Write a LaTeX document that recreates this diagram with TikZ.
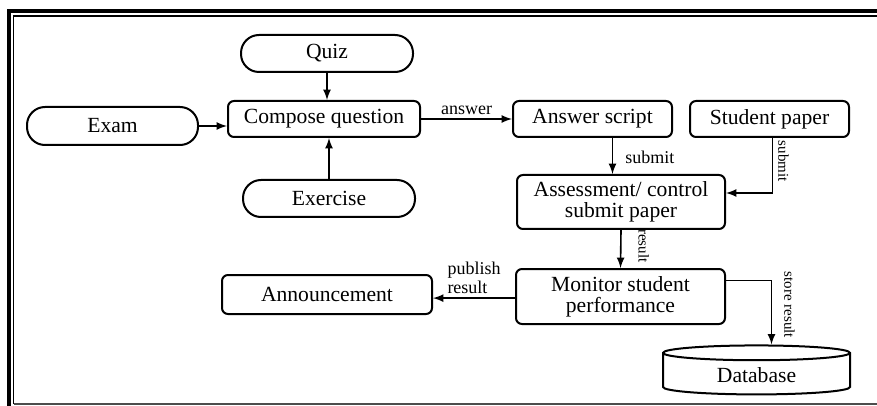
\documentclass[tikz,border=0pt]{standalone}
\usepackage{fontspec}
\setmainfont{Liberation Serif}
\usetikzlibrary{shapes.geometric}

\begin{document}
\begin{tikzpicture}[x=0.5pt, y=-0.5pt, >=latex,
    term/.style={draw, line width=1pt, rounded corners=9pt, minimum width=86pt,
      minimum height=18.5pt, font=\fontsize{10.8}{12}\selectfont},
    proc/.style={draw, line width=1pt, rounded corners=3pt, align=center,
      font=\fontsize{10.8}{10.5}\selectfont},
    arr/.style={->, line width=0.8pt},
    lbl/.style={font=\fontsize{9}{9.5}\selectfont, inner sep=2pt},
    vlbl/.style={font=\fontsize{7.5}{8}\selectfont, rotate=-90, anchor=south}]

  \useasboundingbox (0,0) rectangle (877,406);

  % Frame
  \draw[line width=2pt] (8.5,406) -- (8.5,11.5) -- (877,11.5);
  \draw[line width=0.75pt] (13.5,404) -- (13.5,16) -- (877,16);
  \draw[line width=0.75pt, black!70] (13.5,404) -- (877,404);

  % Nodes
  \node[term] (quiz) at (327,53.5) {Quiz};
  \node[term, minimum width=85.5pt, minimum height=19pt] (exam) at (112.5,126) {Exam};
  \node[term] (exercise) at (329,198.5) {Exercise};
  \node[proc, minimum width=96pt, minimum height=18pt] (compose) at (324,119) {Compose question};
  \node[proc, minimum width=79.5pt, minimum height=18pt] (answer) at (592.5,119) {Answer script};
  \node[proc, minimum width=79.5pt, minimum height=18pt] (student) at (769.5,119) {Student paper};
  \node[proc, minimum width=104pt, minimum height=27pt] (assess) at (621,202)
    {Assessment/ control\\submit paper};
  \node[proc, minimum width=104.5pt, minimum height=27.5pt] (monitor) at (620.5,296.5)
    {Monitor student\\performance};
  \node[proc, minimum width=105pt, minimum height=19.5pt] (announce) at (327,294.5) {Announcement};
  \node[draw, line width=1pt, cylinder, shape border rotate=90, aspect=0.16,
    minimum width=93.5pt, minimum height=23.5pt, font=\fontsize{10.8}{12}\selectfont]
    (db) at (756.5,375.5) {Database};

  % Connectors
  \draw[arr] (quiz.south) -- (quiz.south |- compose.north);
  \draw[arr] (exercise.north) -- (exercise.north |- compose.south);
  \draw[arr] (exam.east) -- (exam.east -| compose.west);
  \draw[arr] (compose.east) -- (answer.west) node[lbl, midway, above] {answer};
  \draw[arr] ([xshift=10pt]answer.south) -- ([xshift=10pt]answer.south |- assess.north)
    node[lbl, pos=0.55, right, inner xsep=6pt] {submit};
  \draw[arr] ([xshift=1.5pt]student.south) |- ([yshift=4.5pt]assess.east)
    node[vlbl, pos=0.21, inner ysep=2.5pt] {submit};
  \draw[arr] (assess.south) -- (monitor.north)
    node[vlbl, pos=0.42, inner ysep=8.5pt] {result};
  \draw[arr] ([yshift=-0.8pt]monitor.west) -- ([yshift=-0.8pt]monitor.west -| announce.east)
    node[lbl, midway, above, align=left] {publish\\result};
  \draw[arr] ([yshift=8pt]monitor.east) -| ([xshift=7.5pt]db.north)
    node[vlbl, pos=0.69, inner ysep=6pt] {store result};

\end{tikzpicture}
\end{document}
